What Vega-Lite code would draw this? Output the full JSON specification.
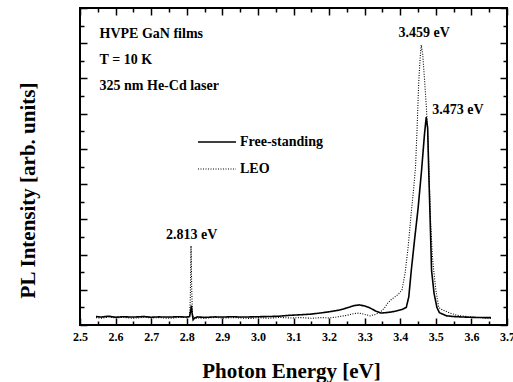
{
  "$schema": "https://vega.github.io/schema/vega-lite/v6.json",
  "width": 427,
  "height": 317,
  "autosize": {"type": "none"},
  "padding": {"left": 80, "top": 8, "right": 6, "bottom": 57},
  "background": "white",
  "config": {
    "view": {"stroke": "black", "strokeWidth": 2},
    "font": "Liberation Serif"
  },
  "datasets": {
    "spectra": [
      {"s":"Free-standing","e":2.545,"i":0.48},{"s":"Free-standing","e":2.56,"i":0.45},{"s":"Free-standing","e":2.58,"i":0.5},{"s":"Free-standing","e":2.6,"i":0.44},{"s":"Free-standing","e":2.62,"i":0.47},{"s":"Free-standing","e":2.65,"i":0.45},{"s":"Free-standing","e":2.68,"i":0.48},{"s":"Free-standing","e":2.7,"i":0.44},{"s":"Free-standing","e":2.72,"i":0.46},{"s":"Free-standing","e":2.75,"i":0.45},{"s":"Free-standing","e":2.78,"i":0.47},{"s":"Free-standing","e":2.8,"i":0.45},{"s":"Free-standing","e":2.808,"i":0.48},{"s":"Free-standing","e":2.811,"i":0.8},{"s":"Free-standing","e":2.813,"i":1.1},{"s":"Free-standing","e":2.815,"i":0.7},{"s":"Free-standing","e":2.818,"i":0.3},{"s":"Free-standing","e":2.822,"i":0.4},{"s":"Free-standing","e":2.83,"i":0.46},{"s":"Free-standing","e":2.85,"i":0.43},{"s":"Free-standing","e":2.88,"i":0.46},{"s":"Free-standing","e":2.9,"i":0.45},{"s":"Free-standing","e":2.93,"i":0.47},{"s":"Free-standing","e":2.95,"i":0.45},{"s":"Free-standing","e":2.98,"i":0.46},{"s":"Free-standing","e":3.0,"i":0.47},{"s":"Free-standing","e":3.03,"i":0.48},{"s":"Free-standing","e":3.06,"i":0.5},{"s":"Free-standing","e":3.09,"i":0.55},{"s":"Free-standing","e":3.12,"i":0.58},{"s":"Free-standing","e":3.15,"i":0.62},{"s":"Free-standing","e":3.175,"i":0.68},{"s":"Free-standing","e":3.2,"i":0.75},{"s":"Free-standing","e":3.23,"i":0.85},{"s":"Free-standing","e":3.25,"i":0.97},{"s":"Free-standing","e":3.27,"i":1.1},{"s":"Free-standing","e":3.285,"i":1.14},{"s":"Free-standing","e":3.3,"i":1.08},{"s":"Free-standing","e":3.315,"i":0.97},{"s":"Free-standing","e":3.33,"i":0.8},{"s":"Free-standing","e":3.345,"i":0.68},{"s":"Free-standing","e":3.36,"i":0.7},{"s":"Free-standing","e":3.375,"i":0.74},{"s":"Free-standing","e":3.39,"i":0.8},{"s":"Free-standing","e":3.405,"i":0.88},{"s":"Free-standing","e":3.417,"i":1.0},{"s":"Free-standing","e":3.424,"i":1.6},{"s":"Free-standing","e":3.431,"i":3.1},{"s":"Free-standing","e":3.44,"i":4.8},{"s":"Free-standing","e":3.45,"i":6.6},{"s":"Free-standing","e":3.46,"i":8.8},{"s":"Free-standing","e":3.468,"i":10.8},{"s":"Free-standing","e":3.473,"i":11.8},{"s":"Free-standing","e":3.477,"i":11.2},{"s":"Free-standing","e":3.48,"i":8.8},{"s":"Free-standing","e":3.484,"i":6.0},{"s":"Free-standing","e":3.488,"i":3.1},{"s":"Free-standing","e":3.495,"i":1.8},{"s":"Free-standing","e":3.503,"i":1.0},{"s":"Free-standing","e":3.51,"i":0.7},{"s":"Free-standing","e":3.53,"i":0.52},{"s":"Free-standing","e":3.55,"i":0.48},{"s":"Free-standing","e":3.58,"i":0.45},{"s":"Free-standing","e":3.61,"i":0.43},{"s":"Free-standing","e":3.635,"i":0.42},{"s":"Free-standing","e":3.655,"i":0.42},
      {"s":"LEO","e":2.545,"i":0.42},{"s":"LEO","e":2.56,"i":0.38},{"s":"LEO","e":2.58,"i":0.45},{"s":"LEO","e":2.6,"i":0.4},{"s":"LEO","e":2.62,"i":0.43},{"s":"LEO","e":2.65,"i":0.38},{"s":"LEO","e":2.68,"i":0.44},{"s":"LEO","e":2.7,"i":0.4},{"s":"LEO","e":2.72,"i":0.42},{"s":"LEO","e":2.75,"i":0.38},{"s":"LEO","e":2.78,"i":0.43},{"s":"LEO","e":2.8,"i":0.42},{"s":"LEO","e":2.808,"i":0.5},{"s":"LEO","e":2.81,"i":1.5},{"s":"LEO","e":2.812,"i":4.5},{"s":"LEO","e":2.814,"i":2.0},{"s":"LEO","e":2.816,"i":0.6},{"s":"LEO","e":2.82,"i":0.35},{"s":"LEO","e":2.83,"i":0.4},{"s":"LEO","e":2.85,"i":0.38},{"s":"LEO","e":2.88,"i":0.43},{"s":"LEO","e":2.9,"i":0.39},{"s":"LEO","e":2.93,"i":0.42},{"s":"LEO","e":2.95,"i":0.4},{"s":"LEO","e":2.98,"i":0.37},{"s":"LEO","e":3.0,"i":0.42},{"s":"LEO","e":3.03,"i":0.38},{"s":"LEO","e":3.06,"i":0.43},{"s":"LEO","e":3.09,"i":0.4},{"s":"LEO","e":3.12,"i":0.42},{"s":"LEO","e":3.15,"i":0.38},{"s":"LEO","e":3.18,"i":0.42},{"s":"LEO","e":3.2,"i":0.4},{"s":"LEO","e":3.22,"i":0.45},{"s":"LEO","e":3.25,"i":0.55},{"s":"LEO","e":3.27,"i":0.65},{"s":"LEO","e":3.285,"i":0.68},{"s":"LEO","e":3.3,"i":0.6},{"s":"LEO","e":3.315,"i":0.52},{"s":"LEO","e":3.33,"i":0.6},{"s":"LEO","e":3.345,"i":0.75},{"s":"LEO","e":3.355,"i":0.95},{"s":"LEO","e":3.365,"i":1.25},{"s":"LEO","e":3.375,"i":1.45},{"s":"LEO","e":3.385,"i":1.6},{"s":"LEO","e":3.395,"i":1.75},{"s":"LEO","e":3.405,"i":2.0},{"s":"LEO","e":3.414,"i":3.0},{"s":"LEO","e":3.422,"i":4.4},{"s":"LEO","e":3.431,"i":6.4},{"s":"LEO","e":3.438,"i":7.8},{"s":"LEO","e":3.443,"i":9.0},{"s":"LEO","e":3.447,"i":11.0},{"s":"LEO","e":3.452,"i":13.8},{"s":"LEO","e":3.456,"i":15.2},{"s":"LEO","e":3.459,"i":15.9},{"s":"LEO","e":3.463,"i":15.4},{"s":"LEO","e":3.468,"i":14.0},{"s":"LEO","e":3.473,"i":12.5},{"s":"LEO","e":3.477,"i":11.0},{"s":"LEO","e":3.481,"i":8.5},{"s":"LEO","e":3.485,"i":6.0},{"s":"LEO","e":3.49,"i":4.0},{"s":"LEO","e":3.494,"i":3.1},{"s":"LEO","e":3.5,"i":2.0},{"s":"LEO","e":3.508,"i":1.0},{"s":"LEO","e":3.515,"i":0.9},{"s":"LEO","e":3.525,"i":0.8},{"s":"LEO","e":3.54,"i":0.68},{"s":"LEO","e":3.56,"i":0.55},{"s":"LEO","e":3.58,"i":0.5},{"s":"LEO","e":3.6,"i":0.45},{"s":"LEO","e":3.62,"i":0.43},{"s":"LEO","e":3.64,"i":0.4},{"s":"LEO","e":3.655,"i":0.38}
    ],
    "leftNotes": [
      {"t":"HVPE GaN films","e":2.555,"i":16.53},
      {"t":"T = 10 K","e":2.555,"i":15.06},
      {"t":"325 nm He-Cd laser","e":2.555,"i":13.58},
      {"t":"3.473 eV","e":3.49,"i":12.2}
    ],
    "centerNotes": [
      {"t":"3.459 eV","e":3.467,"i":16.6},
      {"t":"2.813 eV","e":2.814,"i":5.1}
    ]
  },
  "layer": [
    {
      "data": {"name": "spectra"},
      "mark": {"type": "line", "color": "black", "interpolate": "linear"},
      "encoding": {
        "x": {"field": "e", "type": "quantitative",
          "scale": {"domain": [2.5, 3.7], "nice": false, "zero": false},
          "axis": {"orient": "bottom", "title": "Photon Energy [eV]", "offset": -7,
            "values": [2.5,2.6,2.7,2.8,2.9,3.0,3.1,3.2,3.3,3.4,3.5,3.6,3.7], "format": ".1f",
            "domain": false, "grid": false, "tickColor": "black", "tickWidth": 1.5, "tickSize": 7,
            "labelPadding": 6, "labelFont": "Liberation Serif", "labelFontWeight": "bold", "labelFontSize": 12, "labelColor": "black",
            "labelFlush": false, "labelOverlap": false,
            "titleFont": "Liberation Serif", "titleFontWeight": "bold", "titleFontSize": 21, "titleColor": "black",
            "titleX": 211, "titleY": 53, "titleBaseline": "middle", "titleAnchor": null}
        },
        "y": {"field": "i", "type": "quantitative",
          "scale": {"domain": [0, 18], "nice": false},
          "axis": {"orient": "left", "title": "PL Intensity [arb. units]", "offset": -7,
            "values": [0,2,4,6,8,10,12,14,16,18],
            "labels": false, "domain": false, "grid": false, "tickColor": "black", "tickWidth": 1.5, "tickSize": 7,
            "titleFont": "Liberation Serif", "titleFontWeight": "bold", "titleFontSize": 21, "titleColor": "black",
            "titleAngle": -90, "titleX": -59, "titleY": 182, "titleBaseline": "middle", "titleAlign": "center"}
        },
        "strokeDash": {"field": "s", "type": "nominal",
          "scale": {"domain": ["Free-standing", "LEO"], "range": [[1, 0], [1, 1.5]]},
          "legend": {"orient": "none", "legendX": 117, "legendY": 114, "title": null,
            "symbolType": "stroke", "symbolSize": 1444, "symbolStrokeColor": "black", "symbolStrokeWidth": 1.3,
            "labelFont": "Liberation Serif", "labelFontWeight": "bold", "labelFontSize": 14, "labelColor": "black",
            "labelOffset": 3, "rowPadding": -1}
        },
        "strokeWidth": {"field": "s", "type": "nominal",
          "scale": {"domain": ["Free-standing", "LEO"], "range": [1.6, 1.1]}, "legend": null}
      }
    },
    {
      "data": {"name": "spectra"},
      "mark": {"type": "line", "strokeOpacity": 0},
      "encoding": {
        "x": {"field": "e", "type": "quantitative",
          "axis": {"orient": "top", "title": null, "labels": false, "domain": false, "grid": false, "offset": -7,
            "values": [2.5,2.6,2.7,2.8,2.9,3.0,3.1,3.2,3.3,3.4,3.5,3.6,3.7],
            "tickColor": "black", "tickWidth": 1.5, "tickSize": 7}
        },
        "y": {"field": "i", "type": "quantitative",
          "axis": {"orient": "right", "title": null, "labels": false, "domain": false, "grid": false, "offset": -7,
            "values": [0,2,4,6,8,10,12,14,16,18],
            "tickColor": "black", "tickWidth": 1.5, "tickSize": 7}
        },
        "detail": {"field": "s"}
      }
    },
    {
      "data": {"name": "spectra"},
      "mark": {"type": "line", "strokeOpacity": 0},
      "encoding": {
        "x": {"field": "e", "type": "quantitative",
          "axis": {"orient": "bottom", "title": null, "labels": false, "domain": false, "grid": false, "offset": -4,
            "values": [2.55,2.65,2.75,2.85,2.95,3.05,3.15,3.25,3.35,3.45,3.55,3.65],
            "tickColor": "black", "tickWidth": 1.5, "tickSize": 4}
        },
        "y": {"field": "i", "type": "quantitative",
          "axis": {"orient": "left", "title": null, "labels": false, "domain": false, "grid": false, "offset": -4,
            "values": [1,3,5,7,9,11,13,15,17],
            "tickColor": "black", "tickWidth": 1.5, "tickSize": 4}
        },
        "detail": {"field": "s"}
      }
    },
    {
      "data": {"name": "spectra"},
      "mark": {"type": "line", "strokeOpacity": 0},
      "encoding": {
        "x": {"field": "e", "type": "quantitative",
          "axis": {"orient": "top", "title": null, "labels": false, "domain": false, "grid": false, "offset": -4,
            "values": [2.55,2.65,2.75,2.85,2.95,3.05,3.15,3.25,3.35,3.45,3.55,3.65],
            "tickColor": "black", "tickWidth": 1.5, "tickSize": 4}
        },
        "y": {"field": "i", "type": "quantitative",
          "axis": {"orient": "right", "title": null, "labels": false, "domain": false, "grid": false, "offset": -4,
            "values": [1,3,5,7,9,11,13,15,17],
            "tickColor": "black", "tickWidth": 1.5, "tickSize": 4}
        },
        "detail": {"field": "s"}
      }
    },
    {
      "data": {"name": "leftNotes"},
      "mark": {"type": "text", "align": "left", "baseline": "middle", "font": "Liberation Serif", "fontWeight": "bold", "fontSize": 14, "color": "black"},
      "encoding": {
        "x": {"field": "e", "type": "quantitative", "axis": null},
        "y": {"field": "i", "type": "quantitative", "axis": null},
        "text": {"field": "t"}
      }
    },
    {
      "data": {"name": "centerNotes"},
      "mark": {"type": "text", "align": "center", "baseline": "middle", "font": "Liberation Serif", "fontWeight": "bold", "fontSize": 14, "color": "black"},
      "encoding": {
        "x": {"field": "e", "type": "quantitative", "axis": null},
        "y": {"field": "i", "type": "quantitative", "axis": null},
        "text": {"field": "t"}
      }
    }
  ],
  "resolve": {"axis": {"x": "independent", "y": "independent"}}
}
